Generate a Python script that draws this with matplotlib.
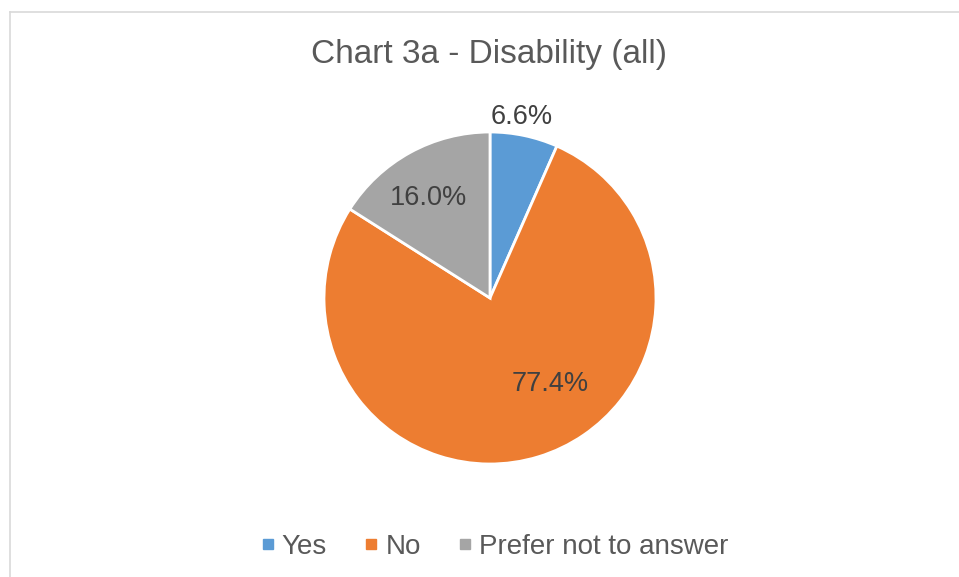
import matplotlib
matplotlib.use("Agg")
import matplotlib.pyplot as plt
from matplotlib.lines import Line2D

plt.rcParams['font.family'] = ['Liberation Sans', 'DejaVu Sans']

categories = ["Yes", "No", "Prefer not to answer"]
shares = [6.6, 77.4, 16.0]
colours = ["#5B9BD5", "#ED7D31", "#A5A5A5"]
title = "Chart 3a - Disability (all)"

# label spots in units of the radius (Excel's "best fit" placement)
label_xy = [(0.19, 1.09), (0.36, -0.52), (-0.37, 0.60)]

W, H = 959, 577
fig = plt.figure(figsize=(W / 100, H / 100), dpi=100)

# pie centre (490, 298) px, radius 166 px
cx, cy, r = 490, 298, 166
ax = fig.add_axes([(cx - r) / W, (H - cy - r) / H, 2 * r / W, 2 * r / H])
wedges, texts, autotexts = ax.pie(shares, colors=colours, startangle=90, counterclock=False,
                                  autopct="%.1f%%", radius=1,
                                  wedgeprops=dict(edgecolor="white", linewidth=2),
                                  textprops=dict(color="#404040", fontsize=19.5))
for t, (x, y) in zip(autotexts, label_xy):
    t.set_position((x, y))
    t.set_ha("center")
    t.set_va("center")
ax.set_xlim(-1, 1)
ax.set_ylim(-1, 1)
ax.set_aspect("equal")
ax.axis("off")

fig.text(489 / W, 1 - 54 / H, title, ha="center", va="center", fontsize=24, color="#595959")

handles = [Line2D([], [], marker="s", linestyle="none", markersize=7, color=c) for c in colours]
fig.legend(handles, categories, loc="center", bbox_to_anchor=(494 / W, 1 - 547 / H), ncol=3,
           frameon=False, fontsize=20, labelcolor="#595959", handletextpad=0.2,
           columnspacing=1.3, handlelength=0.6)

# light chart frame, cropped at right and bottom
fx, fy = 9.5 / W, 1 - 11.5 / H
fig.add_artist(Line2D([fx, 1], [fy, fy], color="#D9D9D9", linewidth=1.2, transform=fig.transFigure))
fig.add_artist(Line2D([fx, fx], [0, fy], color="#D9D9D9", linewidth=1.2, transform=fig.transFigure))

fig.savefig("out.png", dpi=100, facecolor="white")
